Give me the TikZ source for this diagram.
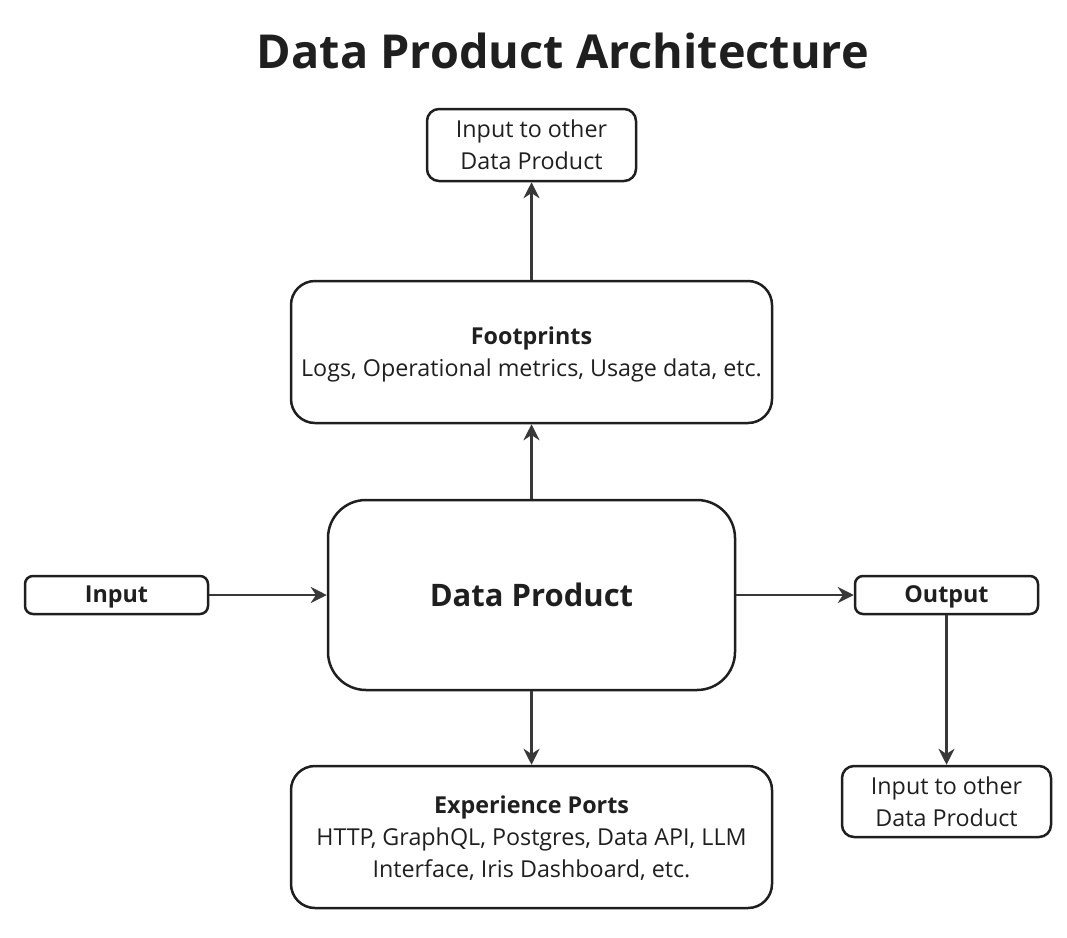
\documentclass[tikz,border=0pt]{standalone}
\usepackage{fontspec}
\setmainfont{Open Sans}
\usetikzlibrary{arrows.meta}
\begin{document}
\begin{tikzpicture}[x=1pt,y=-1pt,
  box/.style={draw=black!88,line width=2.5pt,rounded corners=12pt,align=center,inner sep=0pt,text=black!88},
  conn/.style={draw=black!78,line width=2.5pt,-{Stealth[length=16pt,width=16pt]}},
  txt/.style={font=\fontsize{23.3}{32}\selectfont},
  small/.style={box,font=\bfseries\fontsize{23.3}{32}\selectfont,minimum width=183pt,minimum height=38pt,rounded corners=8pt,text height=21pt,text depth=5.5pt},
  big/.style={box,txt,minimum width=481pt,minimum height=142pt,rounded corners=24pt,text depth=0pt}]
\useasboundingbox (0,0) rectangle (1067,937);
\node[font=\bfseries\fontsize{46.8}{50}\selectfont,text=black!88] (title) at (563,51) {Data Product Architecture};
\node[box,txt,minimum width=209pt,minimum height=72pt] (top) at (531.5,145) {Input to other\\Data Product};
\node[big] (foot) at (531.5,352) {\textbf{Footprints}\\Logs, Operational metrics, Usage data, etc.};
\node[box,minimum width=407pt,minimum height=190pt,rounded corners=38pt,font=\bfseries\fontsize{31}{36}\selectfont] (dp) at (531.5,595) {Data Product};
\node[small] (in) at (116.5,595) {Input};
\node[small] (out) at (946.5,595) {Output};
\node[big] (exp) at (531.5,837) {\textbf{Experience Ports}\\HTTP, GraphQL, Postgres, Data API, LLM\\Interface, Iris Dashboard, etc.};
\node[box,txt,minimum width=209pt,minimum height=71pt] (bot) at (946.5,801.5) {Input to other\\Data Product};
\draw[conn] (foot) -- (top);
\draw[conn] (dp) -- (foot);
\draw[conn] (in) -- (dp);
\draw[conn] (dp) -- (out);
\draw[conn] (dp) -- (exp);
\draw[conn] (out) -- (bot);
\end{tikzpicture}
\end{document}
